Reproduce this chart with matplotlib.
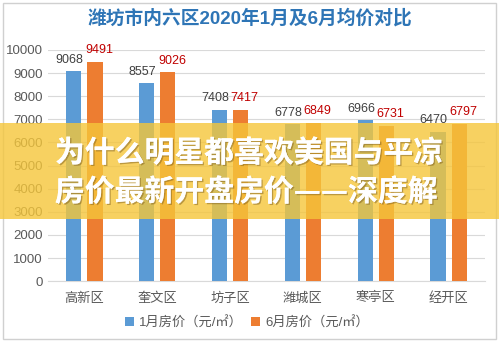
import matplotlib
matplotlib.use("Agg")
import matplotlib.pyplot as plt
import matplotlib.patheffects as pe
from matplotlib.patches import Rectangle
import numpy as np

plt.rcParams['font.family'] = ['Liberation Sans', 'Noto Sans CJK SC', 'DejaVu Sans']

districts = ["高新区", "奎文区", "坊子区", "潍城区", "寒亭区", "经开区"]
jan_price = [9068, 8557, 7408, 6778, 6966, 6470]
jun_price = [9491, 9026, 7417, 6849, 6731, 6797]
yticks = [0, 1000, 2000, 3000, 4000, 5000, 6000, 7000, 8000, 9000, 10000]

blue = "#5B9BD5"
orange = "#ED7D31"

fig = plt.figure(figsize=(4.99, 3.42), dpi=100)
ax = fig.add_axes([0.096, 0.178, 0.876, 0.676])

x = np.arange(len(districts))
w = 0.21
b1 = ax.bar(x - 0.145, jan_price, w, color=blue, zorder=3, label="1月房价（元/㎡）")
b2 = ax.bar(x + 0.145, jun_price, w, color=orange, zorder=3, label="6月房价（元/㎡）")

for xi, v in zip(x - 0.145, jan_price):
    ax.annotate(str(v), (xi, v), xytext=(-3, 4), textcoords="offset points",
                ha="center", va="bottom", fontsize=9, color="#404040")
for xi, v in zip(x + 0.145, jun_price):
    ax.annotate(str(v), (xi, v), xytext=(3, 4), textcoords="offset points",
                ha="center", va="bottom", fontsize=9, color="#C00000")

ax.set_ylim(0, 10000)
ax.set_xlim(-0.5, len(districts) - 0.5)
ax.set_yticks(yticks)
ax.set_xticks(x)
ax.set_xticklabels(districts)
ax.tick_params(axis="both", length=0, labelsize=9.5, colors="#595959")
ax.tick_params(axis="x", pad=8)
ax.grid(axis="y", color="#D9D9D9", linewidth=0.8, zorder=0)
for s in ["top", "right", "left"]:
    ax.spines[s].set_visible(False)
ax.spines["bottom"].set_color("#D9D9D9")

fig.text(0.5, 0.947, "潍坊市内六区2020年1月及6月均价对比", ha="center", va="center",
         fontsize=13.5, fontweight="bold", color="#2E75B6")

fig.legend(handles=[b1, b2], loc="center", bbox_to_anchor=(0.495, 0.056), ncol=2,
           frameon=False, fontsize=9.5, handlelength=0.7, handleheight=0.7,
           handletextpad=0.4, columnspacing=0.6, labelcolor="#595959")

# outer frame
fig.patches.append(Rectangle((0.006, 0.009), 0.988, 0.982, transform=fig.transFigure,
                             fill=False, edgecolor="#D0D0D0", linewidth=1.0))

# banner strip across the middle
fig.patches.append(Rectangle((0, 1 - 219 / 342), 1, 96 / 342, transform=fig.transFigure,
                             facecolor="#F5C63A", alpha=0.8, edgecolor="none", zorder=10))
shadow = [pe.withSimplePatchShadow(offset=(1, -1), shadow_rgbFace="#806020", alpha=0.5),
          pe.Normal()]
banner_font = ['Noto Sans CJK SC', 'DejaVu Sans']
fig.text(0.11, 1 - 153 / 342, "为什么明星都喜欢美国与平凉", ha="left", va="center",
         fontsize=21.5, fontweight="bold", color="white", zorder=11,
         family=banner_font, path_effects=shadow)
fig.text(0.11, 1 - 192 / 342, "房价最新开盘房价——深度解", ha="left", va="center",
         fontsize=21.5, fontweight="bold", color="white", zorder=11,
         family=banner_font, path_effects=shadow)

fig.savefig("out.png", dpi=100)
